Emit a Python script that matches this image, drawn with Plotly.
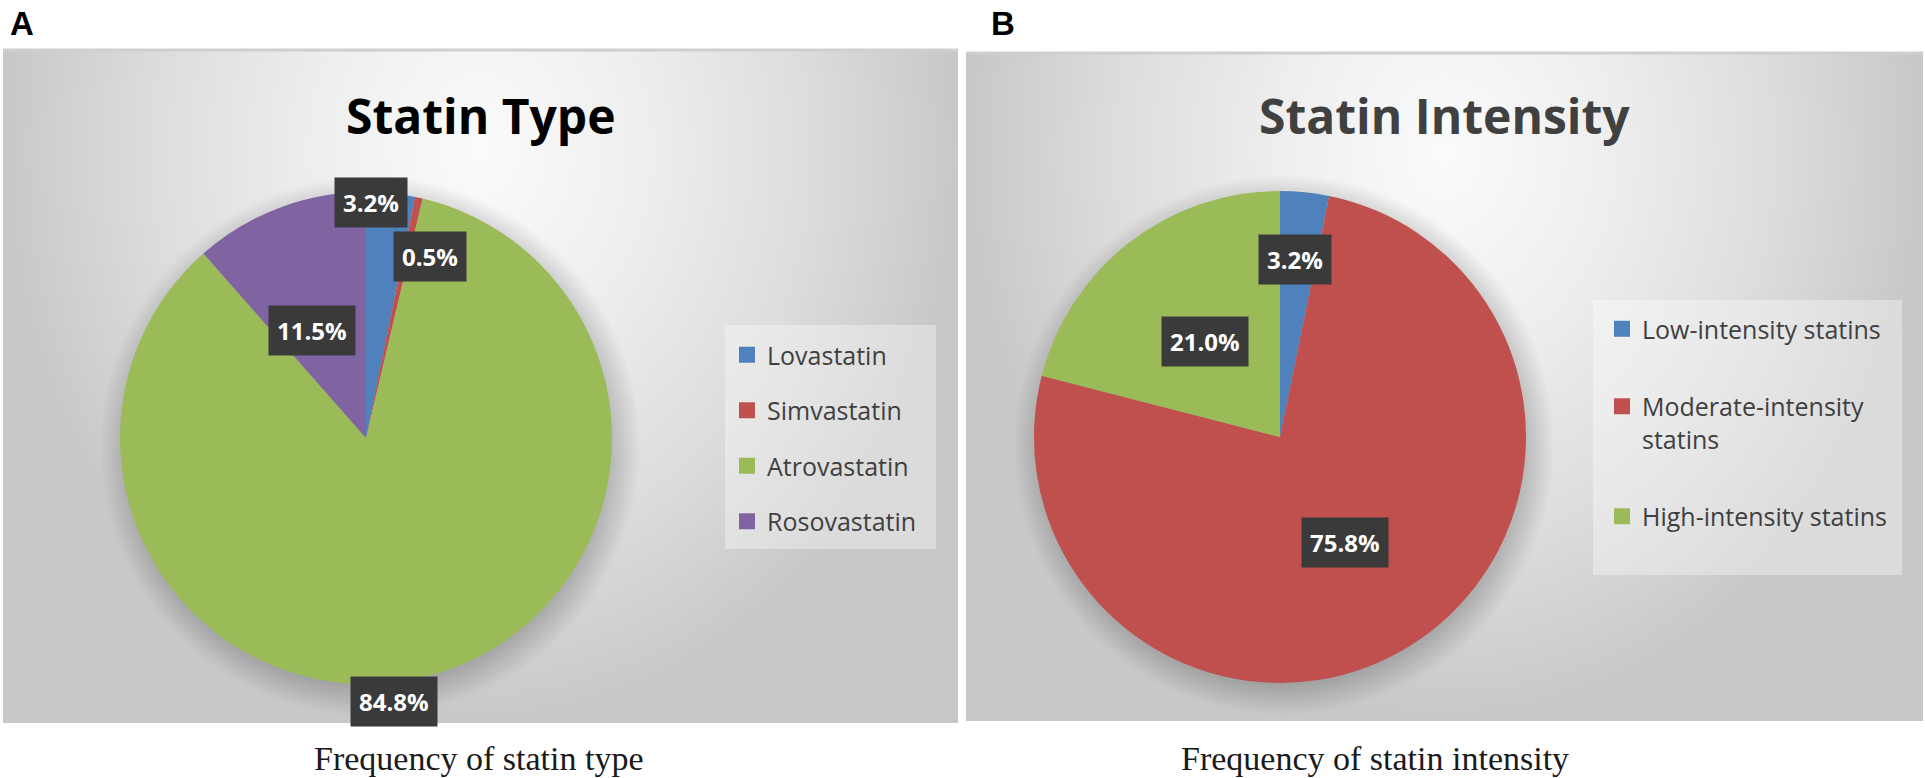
import math
import plotly.graph_objects as go

W, H = 1925, 778

# panel A data
type_labels = ['Lovastatin', 'Simvastatin', 'Atrovastatin', 'Rosovastatin']
type_values = [3.2, 0.5, 84.8, 11.5]
type_colors = ['#4f81bd', '#c0504d', '#9bbb59', '#8064a2']

# panel B data
intensity_labels = ['Low-intensity statins', 'Moderate-intensity statins', 'High-intensity statins']
intensity_values = [3.2, 75.8, 21.0]
intensity_colors = ['#4f81bd', '#c0504d', '#9bbb59']

titles = ['Statin Type', 'Statin Intensity']
captions = ['Frequency of statin type', 'Frequency of statin intensity']
panel_letters = ['A', 'B']

BG_SCALE = [[0, '#fbfbfb'], [0.35, '#eeeeee'], [0.7, '#dcdcdc'], [1, '#c8c8c8']]
SHADOW_SCALE = [[0, 'rgba(0,0,0,0.25)'], [0.88, 'rgba(0,0,0,0.2)'], [1, 'rgba(0,0,0,0)']]


def label_positions(values, cx, cy, r, fracs):
    total = sum(values)
    out = []
    cum = 0
    for v, f in zip(values, fracs):
        mid = (cum + v / 2) / total * 2 * math.pi
        cum += v
        out.append((cx + f * r * math.sin(mid), cy - f * r * math.cos(mid)))
    return out


def panel_trace(x0, x1, y0, y1):
    # the zero-width spike moves the radial gradient centre up towards the title
    xm = (x0 + x1) / 2
    top = y0 - (y1 - y0) * 0.7
    xs = [x0, xm, xm, xm, x1, x1, x0, x0]
    ys = [y0, y0, top, y0, y0, y1, y1, y0]
    return go.Scatter(x=xs, y=ys, mode='lines', fill='toself', line=dict(width=0),
                      fillgradient=dict(type='radial', colorscale=BG_SCALE),
                      hoverinfo='skip', showlegend=False)


def shadow_trace(cx, cy, r):
    n = 120
    xs = [cx + 4 + 1.1 * r * math.cos(2 * math.pi * i / n) for i in range(n + 1)]
    ys = [cy + 8 + 1.1 * r * math.sin(2 * math.pi * i / n) for i in range(n + 1)]
    return go.Scatter(x=xs, y=ys, mode='lines', fill='toself', line=dict(width=0),
                      fillgradient=dict(type='radial', colorscale=SHADOW_SCALE),
                      hoverinfo='skip', showlegend=False)


panels = [
    dict(x0=3, x1=958, y0=50, y1=723, cx=366, cy=438, r=246),
    dict(x0=966, x1=1923, y0=53, y1=721, cx=1280, cy=437, r=246),
]

fig = go.Figure()

for p in panels:
    fig.add_trace(panel_trace(p['x0'], p['x1'], p['y0'], p['y1']))
for p in panels:
    fig.add_trace(shadow_trace(p['cx'], p['cy'], p['r']))

pies = [(type_labels, type_values, type_colors), (intensity_labels, intensity_values, intensity_colors)]
for p, (labels, values, colors) in zip(panels, pies):
    fig.add_trace(go.Pie(
        labels=labels, values=values, sort=False, direction='clockwise', rotation=0,
        marker=dict(colors=colors, line=dict(width=0)), textinfo='none',
        showlegend=False,
        domain=dict(x=[(p['cx'] - p['r']) / W, (p['cx'] + p['r']) / W],
                    y=[(H - p['cy'] - p['r']) / H, (H - p['cy'] + p['r']) / H]),
    ))

# legend entries
for name, color in zip(type_labels, type_colors):
    fig.add_trace(go.Scatter(x=[None], y=[None], mode='markers', name=name, legend='legend',
                             legendgroup=name,
                             marker=dict(symbol='square', size=16, color=color)))
for name, color in zip(intensity_labels, intensity_colors):
    fig.add_trace(go.Scatter(x=[None], y=[None], mode='markers',
                             name=name.replace('intensity statins', 'intensity<br>statins')
                             if name.startswith('Moderate') else name,
                             legend='legend2', legendgroup=name,
                             marker=dict(symbol='square', size=16, color=color)))

annotations = []
# data labels
label_sets = [
    (type_values, panels[0], [0.96, 0.78, 1.07, 0.49], [(-19, -1), (23, 6), (-36, 8), (-11, 5)]),
    (intensity_values, panels[1], [0.73, 0.5, 0.49], [(-3, 1), (0, 1), (-1, 0)]),
]
for values, p, fracs, shifts in label_sets:
    pos = label_positions(values, p['cx'], p['cy'], p['r'], fracs)
    for v, (x, y), (dx, dy) in zip(values, pos, shifts):
        annotations.append(dict(
            x=x, y=y, xref='x', yref='y', text=f'{v:.1f}%', showarrow=False,
            xshift=dx, yshift=-dy, bgcolor='#3a3a3a', borderpad=8,
            font=dict(family='Open Sans', size=24, color='white', weight='bold')))

for p, t, col in zip(panels, titles, ['#000000', '#404040']):
    annotations.append(dict(x=(p['x0'] + p['x1']) / 2, y=115, xref='x', yref='y', text=t,
                            showarrow=False,
                            font=dict(family='Open Sans', size=48, color=col, weight='bold')))

for x, c in zip([479, 1375], captions):
    annotations.append(dict(x=x, y=758, xref='x', yref='y', text=c, showarrow=False,
                            font=dict(family='Liberation Serif', size=34, color='#1a1a1a')))

for x, letter in zip([8, 989], panel_letters):
    annotations.append(dict(x=x, y=23, xref='x', yref='y', text=letter, showarrow=False,
                            xanchor='left',
                            font=dict(family='Liberation Sans', size=33, color='black',
                                      weight='bold')))

shapes = [
    dict(type='rect', xref='x', yref='y', x0=725, x1=936, y0=325, y1=549,
         fillcolor='rgba(255,255,255,0.35)', line=dict(width=0), layer='above'),
    dict(type='rect', xref='x', yref='y', x0=1593, x1=1902, y0=300, y1=575,
         fillcolor='rgba(255,255,255,0.35)', line=dict(width=0), layer='above'),
]
for p in panels:
    shapes.append(dict(type='line', xref='x', yref='y', x0=p['x0'], x1=p['x1'],
                       y0=p['y0'], y1=p['y0'], line=dict(color='#cfcfcf', width=3)))

legend_font = dict(family='Open Sans', size=25, color='#404040')
fig.update_layout(
    width=W, height=H,
    margin=dict(l=0, r=0, t=0, b=0),
    paper_bgcolor='white', plot_bgcolor='white',
    xaxis=dict(range=[0, W], visible=False, fixedrange=True),
    yaxis=dict(range=[H, 0], visible=False, fixedrange=True),
    annotations=annotations,
    shapes=shapes,
    legend=dict(x=727 / W, y=(H - 332) / H, xanchor='left', yanchor='top',
                bgcolor='rgba(0,0,0,0)', font=legend_font, itemwidth=30,
                tracegroupgap=20, traceorder='grouped'),
    legend2=dict(x=1602 / W, y=(H - 306) / H, xanchor='left', yanchor='top',
                 bgcolor='rgba(0,0,0,0)', font=legend_font, itemwidth=30,
                 tracegroupgap=42, traceorder='grouped', valign='top'),
    showlegend=True,
)

# page body margin would shift the 1925x778 figure and push the captions off
fig.write_html("out.html", config={'displayModeBar': False},
               post_script="document.body.style.margin='0';")
